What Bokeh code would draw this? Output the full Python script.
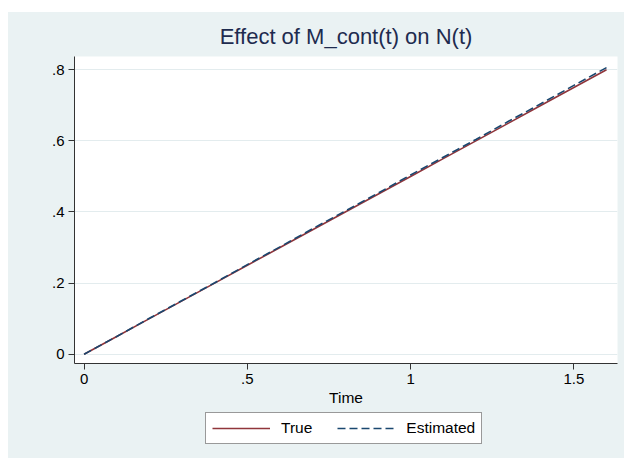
from bokeh.plotting import figure
from bokeh.layouts import column
from bokeh.models import Range1d, FixedTicker, Legend, LegendItem, CustomJSTickFormatter
from bokeh.embed import file_html
from bokeh.resources import INLINE

# Effect of M_cont(t) on N(t): true curve vs. estimated curve
time = [0.0, 0.1, 0.2, 0.3, 0.4, 0.5, 0.6, 0.7, 0.8, 0.9, 1.0, 1.1, 1.2, 1.3, 1.4, 1.5, 1.6]
true_effect = [0.000, 0.050, 0.100, 0.150, 0.200, 0.250, 0.300, 0.350, 0.400,
               0.450, 0.500, 0.550, 0.600, 0.650, 0.700, 0.750, 0.800]
est_effect = [0.000, 0.050, 0.101, 0.151, 0.201, 0.252, 0.302, 0.353, 0.403,
              0.453, 0.504, 0.554, 0.604, 0.655, 0.705, 0.756, 0.806]
x_ticks = [0, 0.5, 1, 1.5]
y_ticks = [0, 0.2, 0.4, 0.6, 0.8]

BG = "#EAF2F3"
FONT = "Liberation Sans"
AXIS = "#333333"
RED = "#90353B"
NAVY = "#1A476F"

x_rng = Range1d(-0.0294, 1.6337)
y_rng = Range1d(-0.0261, 0.8373)

p = figure(width=616, height=400, x_range=x_rng, y_range=y_rng,
           output_backend="svg", toolbar_location=None,
           min_border_left=66, min_border_right=7, min_border_top=44, min_border_bottom=49,
           background_fill_color="white", border_fill_color=BG, outline_line_color=None,
           styles={"background-color": BG})

p.title.text = "Effect of M_cont(t) on N(t)"
p.title.align = "center"
p.title.text_font = FONT
p.title.text_font_size = "22px"
p.title.text_font_style = "normal"
p.title.text_color = "#1E2B4F"
p.title.standoff = 15

stata_fmt = CustomJSTickFormatter(code="return String(tick).replace(/^0\\./, '.');")

for ax in (p.xaxis[0], p.yaxis[0]):
    ax.formatter = stata_fmt
    ax.axis_line_color = AXIS
    ax.major_tick_line_color = AXIS
    ax.major_tick_out = 6
    ax.major_tick_in = 0
    ax.minor_tick_line_color = None
    ax.major_label_text_font = FONT
    ax.major_label_text_font_size = "15px"
    ax.major_label_text_color = "black"
    ax.major_label_standoff = 4

p.xaxis.ticker = FixedTicker(ticks=x_ticks)
p.yaxis.ticker = FixedTicker(ticks=y_ticks)
p.xaxis.axis_label = "Time"
p.xaxis.axis_label_text_font = FONT
p.xaxis.axis_label_text_font_size = "15.5px"
p.xaxis.axis_label_text_font_style = "normal"
p.xaxis.axis_label_text_color = "black"
p.xaxis.axis_label_standoff = 2

p.xgrid.visible = False
p.ygrid.grid_line_color = "#E3ECEE"
p.ygrid.grid_line_width = 1

p.line(time, true_effect, line_color=RED, line_width=1.6)
p.line(time, est_effect, line_color=NAVY, line_width=1.6, line_dash="8 4")

# Legend strip under the chart, sharing the graph background
leg_fig = figure(width=616, height=46, x_range=x_rng, y_range=y_rng,
                 output_backend="svg", toolbar_location=None,
                 x_axis_location=None, y_axis_location=None,
                 min_border_left=66, min_border_right=7, min_border_top=0, min_border_bottom=0,
                 background_fill_color=BG, border_fill_color=BG,
                 outline_line_color=None, styles={"background-color": BG})
leg_fig.grid.visible = False
lr_true = leg_fig.line(time, true_effect, line_color=RED, line_width=1.6, visible=False)
lr_est = leg_fig.line(time, est_effect, line_color=NAVY, line_width=1.6,
                      line_dash="8 4", visible=False)

legend = Legend(items=[LegendItem(label="True", renderers=[lr_true]),
                       LegendItem(label="Estimated", renderers=[lr_est])],
                orientation="horizontal", location=(131, 14), margin=0,
                glyph_width=58, glyph_height=14, label_height=14,
                label_standoff=11, spacing=25, padding=6,
                label_text_font=FONT, label_text_font_size="15.5px",
                label_text_color="black",
                border_line_color=AXIS, border_line_width=1,
                background_fill_color="white", background_fill_alpha=1.0)
leg_fig.add_layout(legend)

page = column(p, leg_fig, spacing=0, margin=(12, 0, 0, 8),
              styles={"background-color": BG})

open("out.html", "w").write(file_html(page, INLINE))
